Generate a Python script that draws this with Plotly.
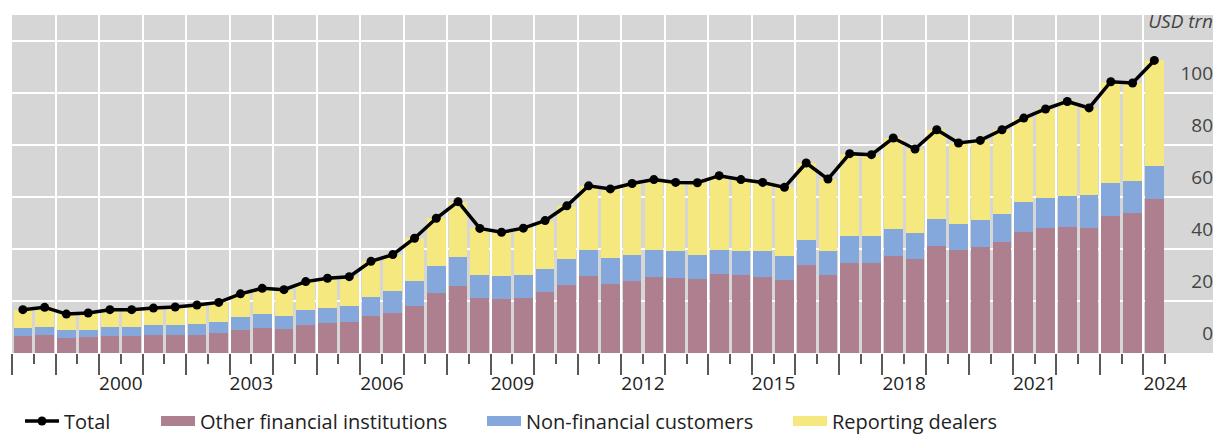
import plotly.graph_objects as go

# Half-year periods, end-June 1998 to end-June 2024
periods = [f"{y}H{h}" for y in range(1998, 2025) for h in (1, 2)][:-1]

other_fin = [6.4, 6.9, 5.9, 6.0, 6.4, 6.5, 7.1, 7.1, 7.1, 7.7, 9.0, 9.6, 9.2, 10.9, 11.6, 12.1, 14.1, 15.4,
             18.0, 23.1, 25.7, 21.2, 20.8, 21.2, 23.4, 26.2, 29.5, 26.7, 27.6, 29.1, 28.9, 28.5, 30.6, 30.0,
             29.3, 28.0, 33.8, 30.2, 34.7, 34.7, 37.2, 36.2, 41.3, 39.5, 40.7, 42.6, 46.7, 48.3, 48.4, 48.3,
             52.9, 53.8, 59.3]
non_fin = [3.2, 3.1, 3.1, 3.0, 3.6, 3.5, 3.8, 3.8, 4.2, 4.1, 4.7, 5.5, 5.2, 5.5, 5.9, 6.1, 7.5, 8.3,
           9.6, 10.3, 11.1, 9.0, 8.7, 9.0, 8.9, 10.0, 10.0, 9.9, 10.0, 10.4, 10.3, 9.1, 9.2, 9.2,
           9.9, 9.2, 9.6, 9.2, 10.2, 10.5, 10.6, 10.0, 10.4, 10.3, 10.4, 11.1, 11.6, 11.3, 11.9, 12.4,
           12.6, 12.3, 12.8]
dealers = [7.1, 7.6, 6.0, 6.4, 6.7, 6.7, 6.4, 6.8, 7.2, 7.7, 9.1, 9.8, 10.0, 11.1, 11.3, 11.2, 13.7, 14.2,
           16.6, 18.5, 21.5, 17.8, 17.0, 17.9, 18.7, 20.5, 24.9, 26.6, 27.7, 27.3, 26.5, 28.0, 28.5, 27.6,
           26.5, 26.6, 29.8, 27.6, 31.9, 31.2, 35.0, 32.4, 34.3, 31.1, 30.8, 32.3, 32.2, 34.4, 36.6, 33.7,
           39.0, 37.9, 40.6]
total = [16.7, 17.6, 15.0, 15.4, 16.7, 16.7, 17.3, 17.7, 18.5, 19.5, 22.8, 24.9, 24.4, 27.5, 28.8, 29.4, 35.3, 37.9,
         44.2, 51.9, 58.3, 48.0, 46.5, 48.1, 51.0, 56.7, 64.4, 63.2, 65.3, 66.8, 65.7, 65.6, 68.3, 66.8,
         65.7, 63.8, 73.2, 67.0, 76.8, 76.4, 82.8, 78.6, 86.0, 80.9, 81.9, 86.0, 90.5, 94.0, 96.9, 94.4,
         104.5, 104.0, 112.7]

year_labels = ["2000", "2003", "2006", "2009", "2012", "2015", "2018", "2021", "2024"]
y_ticks = [0, 20, 40, 60, 80, 100, 120]
y_ticktext = ["0", "20", "40", "60", "80", "100", "<i>USD trn</i>"]

C_OFI = "#ae808f"
C_NFC = "#84a8db"
C_RD = "#f4e87f"
FONT = "Open Sans"

# x position: centre of each half-year slot
x = [int(p[:4]) + (0.25 if p.endswith("H1") else 0.75) for p in periods]
years = list(range(1998, 2025))
mid_years = [y + 0.5 for y in years]
mid_text = [str(y) if str(y) in year_labels else "" for y in years]

fig = go.Figure()
for name, vals, col in [("Other financial institutions", other_fin, C_OFI),
                        ("Non-financial customers", non_fin, C_NFC),
                        ("Reporting dealers", dealers, C_RD)]:
    fig.add_trace(go.Bar(x=x, y=vals, width=0.43, marker=dict(color=col, line=dict(width=0)),
                         name=name, showlegend=False))

fig.add_trace(go.Scatter(x=x, y=total, mode="lines+markers", name="Total",
                         line=dict(color="black", width=3.5), marker=dict(color="black", size=9),
                         legend="legend"))

# legend-only entries for the bar series (rectangle-like symbols)
for name, col, lg in [("Other financial institutions", C_OFI, "legend2"),
                      ("Non-financial customers", C_NFC, "legend3"),
                      ("Reporting dealers", C_RD, "legend4")]:
    fig.add_trace(go.Scatter(x=[None], y=[None], mode="lines", name=name,
                             line=dict(color=col, width=11), legend=lg))

# page has an 8px body margin: figure coordinates = page coordinates - 8
OFF = 8
W, H = 1221 - OFF, 434 - OFF
PL, PR, PT, PB = 12 - OFF, 1217 - OFF, 15 - OFF, 353 - OFF

def px_x(p):
    return (p - OFF - PL) / (PR - PL)

ly = (PB - (421 - OFF)) / (PB - PT)
lg_common = dict(orientation="h", yanchor="middle", y=ly, xanchor="left",
                 itemwidth=34, bgcolor="rgba(0,0,0,0)", borderwidth=0,
                 font=dict(family=FONT, size=20, color="#222"))

fig.update_layout(
    width=W, height=H,
    margin=dict(l=PL, r=W - PR, t=PT, b=H - PB, autoexpand=False),
    barmode="stack",
    plot_bgcolor="#d6d6d6", paper_bgcolor="white",
    font=dict(family=FONT, size=19, color="#222"),
    xaxis=dict(range=[1998, 2025.69], tickmode="array", tickvals=mid_years, ticktext=mid_text,
               ticks="outside", ticklen=10, tickwidth=2, tickcolor="#595959",
               showgrid=False, zeroline=False, showline=False, ticklabelstandoff=3,
               minor=dict(tickmode="array", tickvals=years, ticks="outside", ticklen=21,
                          tickwidth=2, tickcolor="#595959", showgrid=True,
                          gridcolor="white", gridwidth=1.5)),
    yaxis=dict(range=[0, 130.2], side="right", tickmode="array", tickvals=y_ticks, ticktext=y_ticktext,
               ticklabelposition="inside", ticklabelshift=-20, ticklabeloverflow="allow",
               ticklabelstandoff=1, ticks="", showgrid=True, gridcolor="white", gridwidth=1.5,
               zeroline=False, showline=False),
    legend=dict(x=px_x(20), **lg_common),
    legend2=dict(x=px_x(156), **lg_common),
    legend3=dict(x=px_x(482), **lg_common),
    legend4=dict(x=px_x(788), **lg_common),
)

fig.write_html("out.html")
